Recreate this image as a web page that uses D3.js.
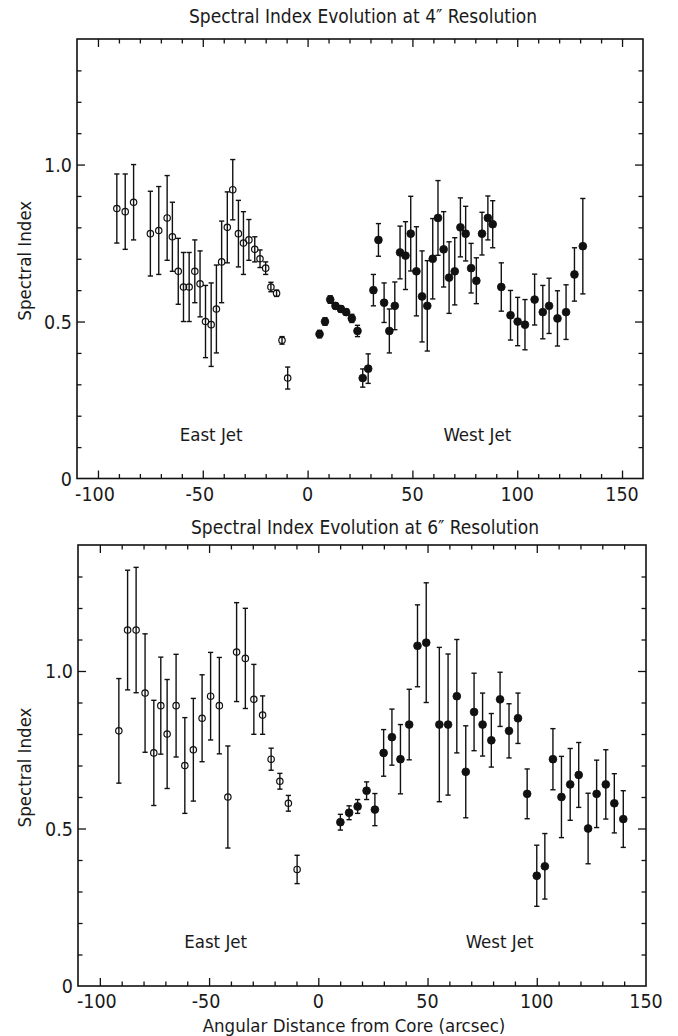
<!DOCTYPE html>
<html>
<head>
<meta charset="utf-8">
<script src="https://cdn.jsdelivr.net/npm/d3@7"></script>
<style>
  html, body { margin: 0; padding: 0; background: #fff; }
  svg text { font-family: "DejaVu Sans Condensed", "Liberation Sans Narrow", sans-serif; fill: #1a1a1a; }
</style>
</head>
<body>
<svg id="chart" width="678" height="1036"></svg>
<script>
// ---- 4" resolution: east jet (open) and west jet (filled) ----
const east4Dist = [-91, -87, -83, -75, -71, -67, -64.5, -61.7, -59.2, -56.5, -53.8, -51.3, -48.7, -46, -43.5, -41, -38.3, -35.7, -33, -30.6, -28, -25.2, -22.7, -20, -17.5, -14.8, -12.2, -9.5];
const east4Index = [0.86, 0.85, 0.88, 0.78, 0.79, 0.83, 0.77, 0.66, 0.61, 0.61, 0.66, 0.62, 0.50, 0.49, 0.54, 0.69, 0.80, 0.92, 0.78, 0.75, 0.76, 0.73, 0.70, 0.67, 0.61, 0.59, 0.44, 0.32];
const east4Err = [0.11, 0.12, 0.12, 0.135, 0.14, 0.135, 0.11, 0.105, 0.11, 0.11, 0.10, 0.105, 0.115, 0.133, 0.14, 0.13, 0.113, 0.096, 0.106, 0.10, 0.065, 0.04, 0.028, 0.02, 0.015, 0.01, 0.012, 0.035];

const west4Dist = [5.7, 8.3, 10.8, 13.3, 15.9, 18.4, 21.1, 23.8, 26.3, 28.9, 31.4, 33.8, 36.5, 39, 41.6, 44.1, 46.7, 49.2, 51.9, 54.6, 57.1, 59.7, 62.2, 64.9, 67.5, 70.2, 72.9, 75.4, 78, 80.5, 83.2, 86, 88.3, 92.4, 96.8, 100.2, 103.7, 108.3, 112.2, 115.2, 119.2, 123.3, 127.3, 131.3];
const west4Index = [0.46, 0.50, 0.57, 0.55, 0.54, 0.53, 0.51, 0.47, 0.32, 0.35, 0.60, 0.76, 0.56, 0.47, 0.55, 0.72, 0.71, 0.78, 0.66, 0.58, 0.55, 0.70, 0.83, 0.73, 0.64, 0.66, 0.80, 0.78, 0.67, 0.63, 0.78, 0.83, 0.81, 0.61, 0.52, 0.50, 0.49, 0.57, 0.53, 0.55, 0.51, 0.53, 0.65, 0.74];
const west4Err = [0.012, 0.012, 0.012, 0.01, 0.01, 0.01, 0.013, 0.018, 0.029, 0.047, 0.05, 0.052, 0.063, 0.07, 0.076, 0.084, 0.108, 0.119, 0.142, 0.145, 0.144, 0.128, 0.119, 0.12, 0.114, 0.107, 0.094, 0.087, 0.079, 0.073, 0.068, 0.07, 0.075, 0.077, 0.079, 0.077, 0.08, 0.081, 0.085, 0.088, 0.088, 0.087, 0.085, 0.152];

// ---- 6" resolution ----
const east6Dist = [-91.3, -87.3, -83.4, -79.3, -75.3, -72.1, -69.2, -65.1, -61.1, -57.2, -53.2, -49.3, -45.3, -41.4, -37.4, -33.4, -29.5, -25.5, -21.6, -17.6, -13.7, -9.7];
const east6Index = [0.81, 1.13, 1.13, 0.93, 0.74, 0.89, 0.80, 0.89, 0.70, 0.75, 0.85, 0.92, 0.89, 0.60, 1.06, 1.04, 0.91, 0.86, 0.72, 0.65, 0.58, 0.37];
const east6Err = [0.166, 0.19, 0.199, 0.188, 0.167, 0.154, 0.173, 0.163, 0.152, 0.163, 0.138, 0.139, 0.153, 0.162, 0.157, 0.159, 0.111, 0.061, 0.035, 0.025, 0.025, 0.045];

const west6Dist = [10.1, 14.1, 18, 22.1, 25.9, 29.9, 33.7, 37.6, 41.6, 45.4, 49.4, 55.4, 59.4, 63.4, 67.5, 71.3, 75.2, 79.2, 83.2, 87.3, 91.4, 95.6, 100, 103.7, 107.4, 111.3, 115.3, 119.2, 123.5, 127.4, 131.6, 135.5, 139.6];
const west6Index = [0.52, 0.55, 0.57, 0.62, 0.56, 0.74, 0.79, 0.72, 0.83, 1.08, 1.09, 0.83, 0.83, 0.92, 0.68, 0.87, 0.83, 0.78, 0.91, 0.81, 0.85, 0.61, 0.35, 0.38, 0.72, 0.60, 0.64, 0.67, 0.50, 0.61, 0.64, 0.58, 0.53];
const west6Err = [0.025, 0.022, 0.022, 0.028, 0.051, 0.074, 0.089, 0.11, 0.112, 0.13, 0.19, 0.245, 0.224, 0.18, 0.146, 0.123, 0.1, 0.085, 0.086, 0.086, 0.08, 0.079, 0.097, 0.104, 0.097, 0.129, 0.114, 0.103, 0.112, 0.107, 0.11, 0.094, 0.09];

const yMajorTicks = [0, 0.5, 1.0];
const yMajorLabels = ["0", "0.5", "1.0"];

const zip = (xs, ys, es) => xs.map((x, i) => ({ x, y: ys[i], e: es[i] }));

const svg = d3.select("#chart");
svg.append("rect").attr("width", 678).attr("height", 1036).attr("fill", "#fff");

function panel(cfg) {
  const x = d3.scaleLinear().domain(cfg.xDomain).range([cfg.left, cfg.right]);
  const y = d3.scaleLinear().domain([0, 1.4]).range([cfg.bottom, cfg.top]);
  const g = svg.append("g");
  const major = 8, minor = 4.5;

  // inward ticks on all four sides: every 10 arcsec / 0.1, longer at 50 / 0.5
  const xMinor = d3.range(-100, cfg.xDomain[1], 10).filter(v => v % 50 !== 0);
  const xMajor = d3.range(-100, cfg.xDomain[1] + 1, 50).filter(v => v < cfg.xDomain[1]);
  const yMinor = d3.range(1, 14).map(v => v / 10).filter(v => Math.abs(v - 0.5) > 1e-6 && Math.abs(v - 1) > 1e-6);
  const yMajor = [0.5, 1.0];

  const tickStyle = sel => {
    sel.select(".domain").remove();
    sel.selectAll(".tick line").attr("stroke", "#111").attr("stroke-width", 1.3);
    sel.selectAll(".tick text").remove();
  };
  g.append("g").attr("transform", `translate(0,${cfg.bottom})`)
    .call(d3.axisBottom(x).tickValues(xMinor).tickSize(-minor)).call(tickStyle);
  g.append("g").attr("transform", `translate(0,${cfg.bottom})`)
    .call(d3.axisBottom(x).tickValues(xMajor).tickSize(-major)).call(tickStyle);
  g.append("g").attr("transform", `translate(0,${cfg.top})`)
    .call(d3.axisTop(x).tickValues(xMinor).tickSize(-minor)).call(tickStyle);
  g.append("g").attr("transform", `translate(0,${cfg.top})`)
    .call(d3.axisTop(x).tickValues(xMajor).tickSize(-major)).call(tickStyle);
  g.append("g").attr("transform", `translate(${cfg.left},0)`)
    .call(d3.axisLeft(y).tickValues(yMinor).tickSize(-minor)).call(tickStyle);
  g.append("g").attr("transform", `translate(${cfg.left},0)`)
    .call(d3.axisLeft(y).tickValues(yMajor).tickSize(-major)).call(tickStyle);
  g.append("g").attr("transform", `translate(${cfg.right},0)`)
    .call(d3.axisRight(y).tickValues(yMinor).tickSize(-minor)).call(tickStyle);
  g.append("g").attr("transform", `translate(${cfg.right},0)`)
    .call(d3.axisRight(y).tickValues(yMajor).tickSize(-major)).call(tickStyle);

  // frame
  g.append("rect")
    .attr("x", cfg.left).attr("y", cfg.top)
    .attr("width", cfg.right - cfg.left).attr("height", cfg.bottom - cfg.top)
    .attr("fill", "none").attr("stroke", "#111").attr("stroke-width", 1.6);

  // x tick labels
  const xLabelVals = d3.range(-100, 151, 50);
  g.selectAll(".xl").data(xLabelVals).enter().append("text")
    .attr("x", d => x(d) + (d < 0 ? -3 : 0))
    .attr("y", cfg.bottom + 22)
    .attr("text-anchor", "middle")
    .attr("font-size", 19.5)
    .text(d => d < 0 ? "-" + Math.abs(d) : d);

  // y tick labels
  g.selectAll(".yl").data(yMajorTicks).enter().append("text")
    .attr("x", cfg.left - 5)
    .attr("y", d => y(d) + 7)
    .attr("text-anchor", "end")
    .attr("font-size", 19.5)
    .text((d, i) => yMajorLabels[i]);

  // title and axis label
  g.append("text")
    .attr("x", (cfg.left + cfg.right) / 2 + 3).attr("y", cfg.titleY)
    .attr("text-anchor", "middle").attr("font-size", 19)
    .text(cfg.title);
  g.append("text")
    .attr("transform", `translate(31,${(cfg.top + cfg.bottom) / 2 + 2}) rotate(-90)`)
    .attr("text-anchor", "middle").attr("font-size", 18.5)
    .text("Spectral Index");

  // region labels
  g.append("text").attr("x", x(cfg.eastLabelX)).attr("y", y(0.12))
    .attr("text-anchor", "middle").attr("font-size", 18.5).text("East Jet");
  g.append("text").attr("x", x(cfg.westLabelX)).attr("y", y(0.12))
    .attr("text-anchor", "middle").attr("font-size", 18.5).text("West Jet");

  // error bars + markers
  const cap = 2.6;
  const drawSeries = (data, filled) => {
    const s = g.append("g");
    const pt = s.selectAll("g").data(data).enter().append("g");
    pt.append("line")
      .attr("x1", d => x(d.x)).attr("x2", d => x(d.x))
      .attr("y1", d => y(d.y + d.e)).attr("y2", d => y(d.y - d.e))
      .attr("stroke", "#111").attr("stroke-width", 1.4);
    pt.append("line")
      .attr("x1", d => x(d.x) - cap).attr("x2", d => x(d.x) + cap)
      .attr("y1", d => y(d.y + d.e)).attr("y2", d => y(d.y + d.e))
      .attr("stroke", "#111").attr("stroke-width", 1.4);
    pt.append("line")
      .attr("x1", d => x(d.x) - cap).attr("x2", d => x(d.x) + cap)
      .attr("y1", d => y(d.y - d.e)).attr("y2", d => y(d.y - d.e))
      .attr("stroke", "#111").attr("stroke-width", 1.4);
    pt.append("circle")
      .attr("cx", d => x(d.x)).attr("cy", d => y(d.y))
      .attr("r", filled ? 3.9 : 3.2)
      .attr("fill", filled ? "#111" : "none")
      .attr("stroke", "#111").attr("stroke-width", filled ? 0.8 : 1.2);
  };
  drawSeries(cfg.east, false);
  drawSeries(cfg.west, true);
  return { x, y };
}

panel({
  left: 77, right: 643, top: 39, bottom: 478.5,
  xDomain: [-110, 160],
  titleY: 23,
  title: "Spectral Index Evolution at 4\u2033 Resolution",
  east: zip(east4Dist, east4Index, east4Err),
  west: zip(west4Dist, west4Index, west4Err),
  eastLabelX: -46, westLabelX: 81
});

const bottomPanel = panel({
  left: 78, right: 646, top: 545, bottom: 986,
  xDomain: [-110, 150],
  titleY: 534,
  title: "Spectral Index Evolution at 6\u2033 Resolution",
  east: zip(east6Dist, east6Index, east6Err),
  west: zip(west6Dist, west6Index, west6Err),
  eastLabelX: -47, westLabelX: 83
});

svg.append("text")
  .attr("x", (78 + 646) / 2 - 8).attr("y", 1032)
  .attr("text-anchor", "middle").attr("font-size", 18.5)
  .text("Angular Distance from Core (arcsec)");
</script>
</body>
</html>
